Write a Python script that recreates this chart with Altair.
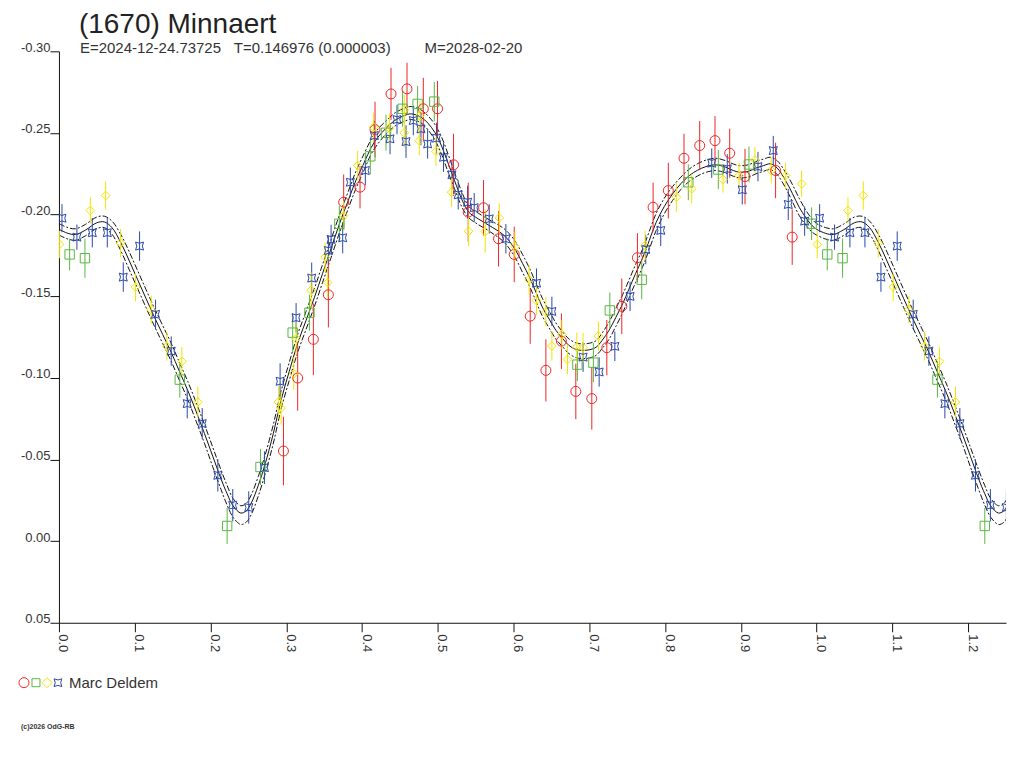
import altair as alt
import pandas as pd

# ---------------- texts ----------------
TITLE = "(1670) Minnaert"
SUB_E = "E=2024-12-24.73725"
SUB_T = "T=0.146976 (0.000003)"
SUB_M = "M=2028-02-20"
OBSERVER = "Marc Deldem"
COPYRIGHT = "(c)2026 OdG-RB"

# ---------------- axes ----------------
x_ticks = [0.0, 0.05, 0.1, 0.15, 0.2, 0.25, 0.3, 0.35, 0.4, 0.45, 0.5, 0.55, 0.6,
           0.65, 0.7, 0.75, 0.8, 0.85, 0.9, 0.95, 1.0, 1.05, 1.1, 1.15, 1.2, 1.25]
y_ticks = [-0.30, -0.25, -0.20, -0.15, -0.10, -0.05, 0.0, 0.05]

# ---------------- observations (phase, mag, error) ----------------
red_phase = [0.2963, 0.3151, 0.3358, 0.3556, 0.3758, 0.3974, 0.4172, 0.4383, 0.4594, 0.4809,
             0.4997, 0.5208, 0.5402, 0.5604, 0.5802, 0.6009, 0.6220, 0.6427, 0.6632, 0.6822,
             0.7033, 0.7231, 0.7429, 0.7635, 0.7842, 0.8043, 0.8250, 0.8457, 0.8659, 0.8853,
             0.9055, 0.9459, 0.9678]
red_mag = [-0.0552, -0.0999, -0.1236, -0.1509, -0.2076, -0.2168, -0.2521, -0.2739, -0.2770, -0.2648,
           -0.2648, -0.2305, -0.2015, -0.2042, -0.1852, -0.1756, -0.1378, -0.1046, -0.1225, -0.0917,
           -0.0873, -0.1185, -0.1438, -0.1736, -0.2045, -0.2147, -0.2345, -0.2423, -0.2453, -0.2376,
           -0.2233, -0.2270, -0.1862]
red_err = [0.021, 0.020, 0.022, 0.020, 0.017, 0.013, 0.017, 0.016, 0.016, 0.019,
           0.017, 0.019, 0.018, 0.017, 0.017, 0.017, 0.017, 0.019, 0.017, 0.017,
           0.019, 0.017, 0.017, 0.015, 0.015, 0.017, 0.015, 0.015, 0.015, 0.015,
           0.017, 0.017, 0.017]

green_phase = [0.0141, 0.0343, 0.1595, 0.2220, 0.2660, 0.3085, 0.3306, 0.3701, 0.4110, 0.4317,
               0.4536, 0.4734, 0.4954, 0.6843, 0.7054, 0.7271, 0.7692, 0.8307, 0.8703, 0.9107,
               0.9934]
green_mag = [-0.1756, -0.1733, -0.0989, -0.0093, -0.0454, -0.1277, -0.1399, -0.1944, -0.2357, -0.2501,
             -0.2648, -0.2678, -0.2692, -0.1081, -0.1093, -0.1413, -0.1601, -0.2198, -0.2276, -0.2307,
             -0.1944]
green_err = [0.0097, 0.012, 0.011, 0.011, 0.011, 0.012, 0.011, 0.011, 0.011, 0.011,
             0.011, 0.011, 0.012, 0.010, 0.012, 0.011, 0.012, 0.011, 0.012, 0.011,
             0.010]

yellow_phase = [0.0009, 0.0414, 0.0616, 0.0814, 0.1011, 0.1218, 0.1424, 0.1622, 0.1833, 0.2897,
                0.2932, 0.3099, 0.3130, 0.3328, 0.3547, 0.3513, 0.3758, 0.3943, 0.4153, 0.4361,
                0.4558, 0.4558, 0.4765, 0.4756, 0.4976, 0.5182, 0.5406, 0.5626, 0.5811, 0.6018,
                0.6206, 0.6303, 0.6427, 0.6506, 0.6638, 0.6712, 0.6835, 0.6918, 0.7120, 0.7736,
                0.8149, 0.8352, 0.8765, 0.8976, 0.9186, 0.9401, 0.9591, 0.9802]
yellow_mag = [-0.1817, -0.2025, -0.2117, -0.1825, -0.1556, -0.1417, -0.1193, -0.1101, -0.0852, -0.0852,
              -0.0815, -0.1026, -0.1240, -0.1536, -0.1583, -0.1739, -0.1994, -0.2300, -0.2535, -0.2529,
              -0.2643, -0.2501, -0.2606, -0.2453, -0.2388, -0.2137, -0.1898, -0.1897, -0.1980, -0.1805,
              -0.1601, -0.1474, -0.1403, -0.1195, -0.1266, -0.1113, -0.1189, -0.1185, -0.1256, -0.1811,
              -0.2107, -0.2158, -0.2215, -0.2239, -0.2335, -0.2270, -0.2239, -0.2189]
yellow_err = [0.0084, 0.008, 0.0087, 0.0087, 0.0087, 0.0085, 0.0087, 0.0087, 0.0094, 0.010,
              0.010, 0.010, 0.010, 0.011, 0.009, 0.009, 0.009, 0.009, 0.009, 0.009,
              0.009, 0.009, 0.009, 0.009, 0.009, 0.009, 0.009, 0.013, 0.009, 0.009,
              0.009, 0.009, 0.009, 0.009, 0.009, 0.009, 0.009, 0.009, 0.009, 0.009,
              0.009, 0.009, 0.008, 0.008, 0.008, 0.008, 0.008, 0.008]

blue_phase = [0.0040, 0.0237, 0.0440, 0.0638, 0.1064, 0.0849, 0.1275, 0.1482, 0.1693, 0.1891,
              0.2097, 0.2294, 0.2505, 0.2712, 0.2919, 0.3130, 0.3336, 0.3556, 0.3592, 0.3745,
              0.3846, 0.4044, 0.4163, 0.4370, 0.4462, 0.4581, 0.4677, 0.4778, 0.4866, 0.4984,
              0.5076, 0.5187, 0.5270, 0.5393, 0.5481, 0.5679, 0.5899, 0.6303, 0.6506, 0.6918,
              0.7130, 0.7337, 0.7538, 0.7745, 0.7943, 0.8616, 0.8821, 0.9019, 0.9226, 0.9428,
              0.9626, 0.9842]
blue_mag = [-0.1978, -0.1862, -0.1889, -0.1889, -0.1807, -0.1617, -0.1389, -0.1164, -0.0842, -0.0720,
            -0.0403, -0.0220, -0.0206, -0.0450, -0.0979, -0.1368, -0.1611, -0.1780, -0.1848, -0.1858,
            -0.2198, -0.2270, -0.2484, -0.2464, -0.2582, -0.2447, -0.2576, -0.2525, -0.2433, -0.2468,
            -0.2351, -0.2244, -0.2121, -0.2076, -0.2042, -0.1974, -0.1852, -0.1580, -0.1407, -0.1127,
            -0.1036, -0.1193, -0.1499, -0.1786, -0.1903, -0.2315, -0.2280, -0.2152, -0.2294, -0.2392,
            -0.2062, -0.1960]
blue_err = [0.0086, 0.0077, 0.009, 0.009, 0.009, 0.009, 0.009, 0.009, 0.009, 0.0095,
            0.0099, 0.0099, 0.0099, 0.010, 0.011, 0.009, 0.0095, 0.009, 0.009, 0.0095,
            0.009, 0.009, 0.009, 0.0095, 0.009, 0.010, 0.009, 0.010, 0.009, 0.0095,
            0.009, 0.009, 0.009, 0.010, 0.009, 0.009, 0.009, 0.009, 0.009, 0.009,
            0.009, 0.009, 0.009, 0.009, 0.0095, 0.009, 0.009, 0.009, 0.009, 0.009,
            0.0095, 0.009]

# ---------------- fitted curve and its envelope ----------------
curve_phase = [0.000, 0.012, 0.022, 0.035, 0.050, 0.060, 0.070, 0.082, 0.093, 0.104,
               0.115, 0.126, 0.137, 0.148, 0.159, 0.170, 0.181, 0.192, 0.203, 0.214,
               0.222, 0.230, 0.240, 0.247, 0.254, 0.263, 0.272, 0.283, 0.293, 0.304,
               0.315, 0.326, 0.337, 0.348, 0.359, 0.370, 0.381, 0.392, 0.403, 0.412,
               0.421, 0.432, 0.443, 0.455, 0.465, 0.478, 0.487, 0.496, 0.505, 0.514,
               0.522, 0.532, 0.541, 0.550, 0.568, 0.585, 0.594, 0.603, 0.612, 0.621,
               0.630, 0.638, 0.647, 0.656, 0.665, 0.673, 0.682, 0.691, 0.700, 0.709,
               0.717, 0.726, 0.735, 0.744, 0.752, 0.761, 0.770, 0.779, 0.788, 0.799,
               0.810, 0.821, 0.832, 0.843, 0.854, 0.867, 0.880, 0.890, 0.898, 0.910,
               0.920, 0.930, 0.939, 0.948, 0.959, 0.968, 0.977, 0.986, 0.994]
curve_mag = [-0.1910, -0.1885, -0.1878, -0.1905, -0.1950, -0.1955, -0.1920, -0.1825, -0.1715, -0.1600,
             -0.1485, -0.1372, -0.1265, -0.1158, -0.1040, -0.0923, -0.0795, -0.0660, -0.0520, -0.0380,
             -0.0290, -0.0215, -0.0172, -0.0185, -0.0235, -0.0340, -0.0470, -0.0660, -0.0860, -0.1040,
             -0.1210, -0.1350, -0.1490, -0.1640, -0.1790, -0.1940, -0.2076, -0.2210, -0.2320, -0.2410,
             -0.2474, -0.2530, -0.2576, -0.2605, -0.2617, -0.2596, -0.2560, -0.2504, -0.2420, -0.2310,
             -0.2210, -0.2090, -0.2015, -0.1984, -0.1933, -0.1882, -0.1840, -0.1780, -0.1700, -0.1617,
             -0.1520, -0.1433, -0.1360, -0.1291, -0.1240, -0.1199, -0.1175, -0.1168, -0.1172, -0.1188,
             -0.1230, -0.1291, -0.1370, -0.1454, -0.1540, -0.1638, -0.1730, -0.1840, -0.1950, -0.2050,
             -0.2127, -0.2190, -0.2239, -0.2272, -0.2294, -0.2305, -0.2290, -0.2270, -0.2260, -0.2265,
             -0.2285, -0.2300, -0.2311, -0.2285, -0.2209, -0.2130, -0.2045, -0.1980, -0.1933]
env_up = [0.0035, 0.0035, 0.0035, 0.0035, 0.0035, 0.0035, 0.0040, 0.0050, 0.0055, 0.0055,
          0.0055, 0.0055, 0.0055, 0.0055, 0.0055, 0.0055, 0.0055, 0.0055, 0.0055, 0.0055,
          0.0050, 0.0045, 0.0045, 0.0045, 0.0050, 0.0055, 0.0055, 0.0055, 0.0055, 0.0055,
          0.0055, 0.0055, 0.0055, 0.0055, 0.0055, 0.0055, 0.0055, 0.0055, 0.0055, 0.0050,
          0.0050, 0.0045, 0.0045, 0.0045, 0.0045, 0.0045, 0.0045, 0.0050, 0.0055, 0.0055,
          0.0050, 0.0045, 0.0035, 0.0035, 0.0035, 0.0040, 0.0045, 0.0050, 0.0055, 0.0055,
          0.0055, 0.0055, 0.0050, 0.0045, 0.0040, 0.0040, 0.0040, 0.0040, 0.0040, 0.0040,
          0.0045, 0.0050, 0.0055, 0.0055, 0.0055, 0.0055, 0.0055, 0.0055, 0.0055, 0.0050,
          0.0045, 0.0040, 0.0040, 0.0040, 0.0040, 0.0040, 0.0040, 0.0040, 0.0040, 0.0040,
          0.0040, 0.0040, 0.0040, 0.0045, 0.0050, 0.0055, 0.0055, 0.0045, 0.0040]
env_dn = [0.0035, 0.0035, 0.0035, 0.0035, 0.0035, 0.0035, 0.0040, 0.0050, 0.0055, 0.0055,
          0.0055, 0.0055, 0.0055, 0.0055, 0.0055, 0.0055, 0.0060, 0.0060, 0.0065, 0.0065,
          0.0070, 0.0070, 0.0070, 0.0070, 0.0070, 0.0065, 0.0060, 0.0060, 0.0055, 0.0055,
          0.0055, 0.0055, 0.0055, 0.0055, 0.0055, 0.0055, 0.0050, 0.0050, 0.0045, 0.0040,
          0.0040, 0.0035, 0.0035, 0.0035, 0.0035, 0.0035, 0.0040, 0.0045, 0.0050, 0.0055,
          0.0050, 0.0045, 0.0035, 0.0035, 0.0035, 0.0040, 0.0045, 0.0050, 0.0055, 0.0055,
          0.0055, 0.0055, 0.0055, 0.0055, 0.0050, 0.0050, 0.0050, 0.0050, 0.0050, 0.0050,
          0.0050, 0.0055, 0.0055, 0.0055, 0.0055, 0.0055, 0.0055, 0.0055, 0.0050, 0.0045,
          0.0040, 0.0035, 0.0035, 0.0035, 0.0035, 0.0035, 0.0035, 0.0035, 0.0035, 0.0035,
          0.0035, 0.0035, 0.0035, 0.0040, 0.0045, 0.0050, 0.0050, 0.0045, 0.0040]

series_names = ["red", "green", "yellow", "blue"]
series_colors = ["#f02424", "#58b840", "#f2e400", "#2a48a8"]
STAR = "M-1,-1L0,-0.7L1,-1L0.7,0L1,1L0,0.7L-1,1L-0.7,0Z"
series_shapes = ["circle", "square", "diamond", STAR]
series_sizes = [100, 64, 100, 60]

FONT = "Liberation Sans"
WRAP = 0.26  # phases repeated after 1.0

# ---------------- tables ----------------
frames = []
for name, ph, mg, er in [("red", red_phase, red_mag, red_err),
                         ("green", green_phase, green_mag, green_err),
                         ("yellow", yellow_phase, yellow_mag, yellow_err),
                         ("blue", blue_phase, blue_mag, blue_err)]:
    frames.append(pd.DataFrame({"phase": ph, "mag": mg, "err": er, "series": name}))
obs = pd.concat(frames, ignore_index=True)
wrap = obs[obs.phase < WRAP].copy()
wrap["phase"] = wrap["phase"] + 1.0
obs = pd.concat([obs, wrap], ignore_index=True)
obs["lo"] = obs["mag"] - obs["err"]
obs["hi"] = obs["mag"] + obs["err"]

curve = pd.DataFrame({"phase": curve_phase, "mag": curve_mag, "up": env_up, "dn": env_dn})
cwrap = curve[curve.phase < WRAP].copy()
cwrap["phase"] = cwrap["phase"] + 1.0
curve = pd.concat([curve, cwrap], ignore_index=True)
curve["upper"] = curve["mag"] - curve["up"]
curve["lower"] = curve["mag"] + curve["dn"]

# ---------------- scales / axes ----------------
xscale = alt.Scale(domain=[0, 1.25], nice=False, zero=False)
yscale = alt.Scale(domain=[-0.30, 0.05], reverse=True, nice=False, zero=False)

xaxis = alt.Axis(values=x_ticks, title=None, grid=False,
                 labelExpr="abs(datum.value*10 - round(datum.value*10)) < 0.01 ? format(datum.value, '.1f') : ''",
                 labelAngle=90, labelAlign="left", labelBaseline="alphabetic",
                 labelPadding=2, tickSize=9, tickColor="#111111", domainColor="#111111",
                 labelColor="#333333", labelFont=FONT, labelFontSize=13,
                 labelOverlap=False, labelFlush=False)
yaxis = alt.Axis(values=y_ticks, title=None, grid=False,
                 labelExpr="replace(format(datum.value, '.2f'), '\u2212', '-')",
                 labelAlign="right", labelBaseline="alphabetic", labelPadding=0,
                 tickSize=9, tickColor="#111111", domainColor="#111111",
                 labelColor="#333333", labelFont=FONT, labelFontSize=13,
                 labelOverlap=False, labelFlush=False)

X = alt.X("phase:Q", scale=xscale, axis=xaxis)

base_curve = alt.Chart(curve)
line_mid = base_curve.mark_line(color="#111111", strokeWidth=1, clip=True,
                                interpolate="catmull-rom").encode(
    x=X, y=alt.Y("mag:Q", scale=yscale, axis=yaxis))
line_up = base_curve.mark_line(color="#111111", strokeWidth=1, clip=True,
                               interpolate="catmull-rom", strokeDash=[6, 2, 2, 2]).encode(
    x="phase:Q", y="upper:Q")
line_dn = base_curve.mark_line(color="#111111", strokeWidth=1, clip=True,
                               interpolate="catmull-rom", strokeDash=[6, 2, 2, 2]).encode(
    x="phase:Q", y="lower:Q")

color = alt.Color("series:N", scale=alt.Scale(domain=series_names, range=series_colors), legend=None)

bars = alt.Chart(obs).mark_rule(strokeWidth=1, clip=True).encode(
    x="phase:Q", y="lo:Q", y2="hi:Q", color=color,
    order=alt.Order("series:N"))

pts = alt.Chart(obs).mark_point(filled=False, strokeWidth=1, clip=True, opacity=1).encode(
    x="phase:Q", y="mag:Q", color=color,
    shape=alt.Shape("series:N", scale=alt.Scale(domain=series_names, range=series_shapes), legend=None),
    size=alt.Size("series:O", scale=alt.Scale(domain=series_names, range=series_sizes), legend=None))

one = pd.DataFrame({"k": [0]})


def label(txt, x, y, size, color="#222222", weight="normal"):
    return alt.Chart(one).mark_text(text=txt, align="left", baseline="alphabetic", font=FONT,
                                    fontSize=size, color=color, fontWeight=weight).encode(
        x=alt.value(x), y=alt.value(y))


texts = [
    label(TITLE, 20, -18, 28),
    label(SUB_E, 21, 2, 15, "#333333"),
    label(SUB_T, 175, 2, 15, "#333333"),
    label(SUB_M, 366, 2, 15, "#333333"),
    label(OBSERVER, 10, 637, 15, "#333333"),
    label(COPYRIGHT, -38, 678, 7, "#333333", "bold"),
]

legend_marks = []
for i, lx in enumerate([-35, -23, -12, -1]):
    legend_marks.append(
        alt.Chart(one).mark_point(filled=False, strokeWidth=1, shape=series_shapes[i],
                                  size=series_sizes[i], color=series_colors[i], opacity=1).encode(
            x=alt.value(lx), y=alt.value(632)))

chart = alt.layer(line_mid, line_up, line_dn, bars, pts, *texts, *legend_marks).properties(
    width=948, height=572,
    autosize=alt.AutoSizeParams(type="none"),
    padding={"left": 51, "top": 43, "right": 10, "bottom": 125},
    background="white",
).configure_view(strokeWidth=0)

chart.save("out.html", embed_options={"renderer": "svg", "actions": False})
